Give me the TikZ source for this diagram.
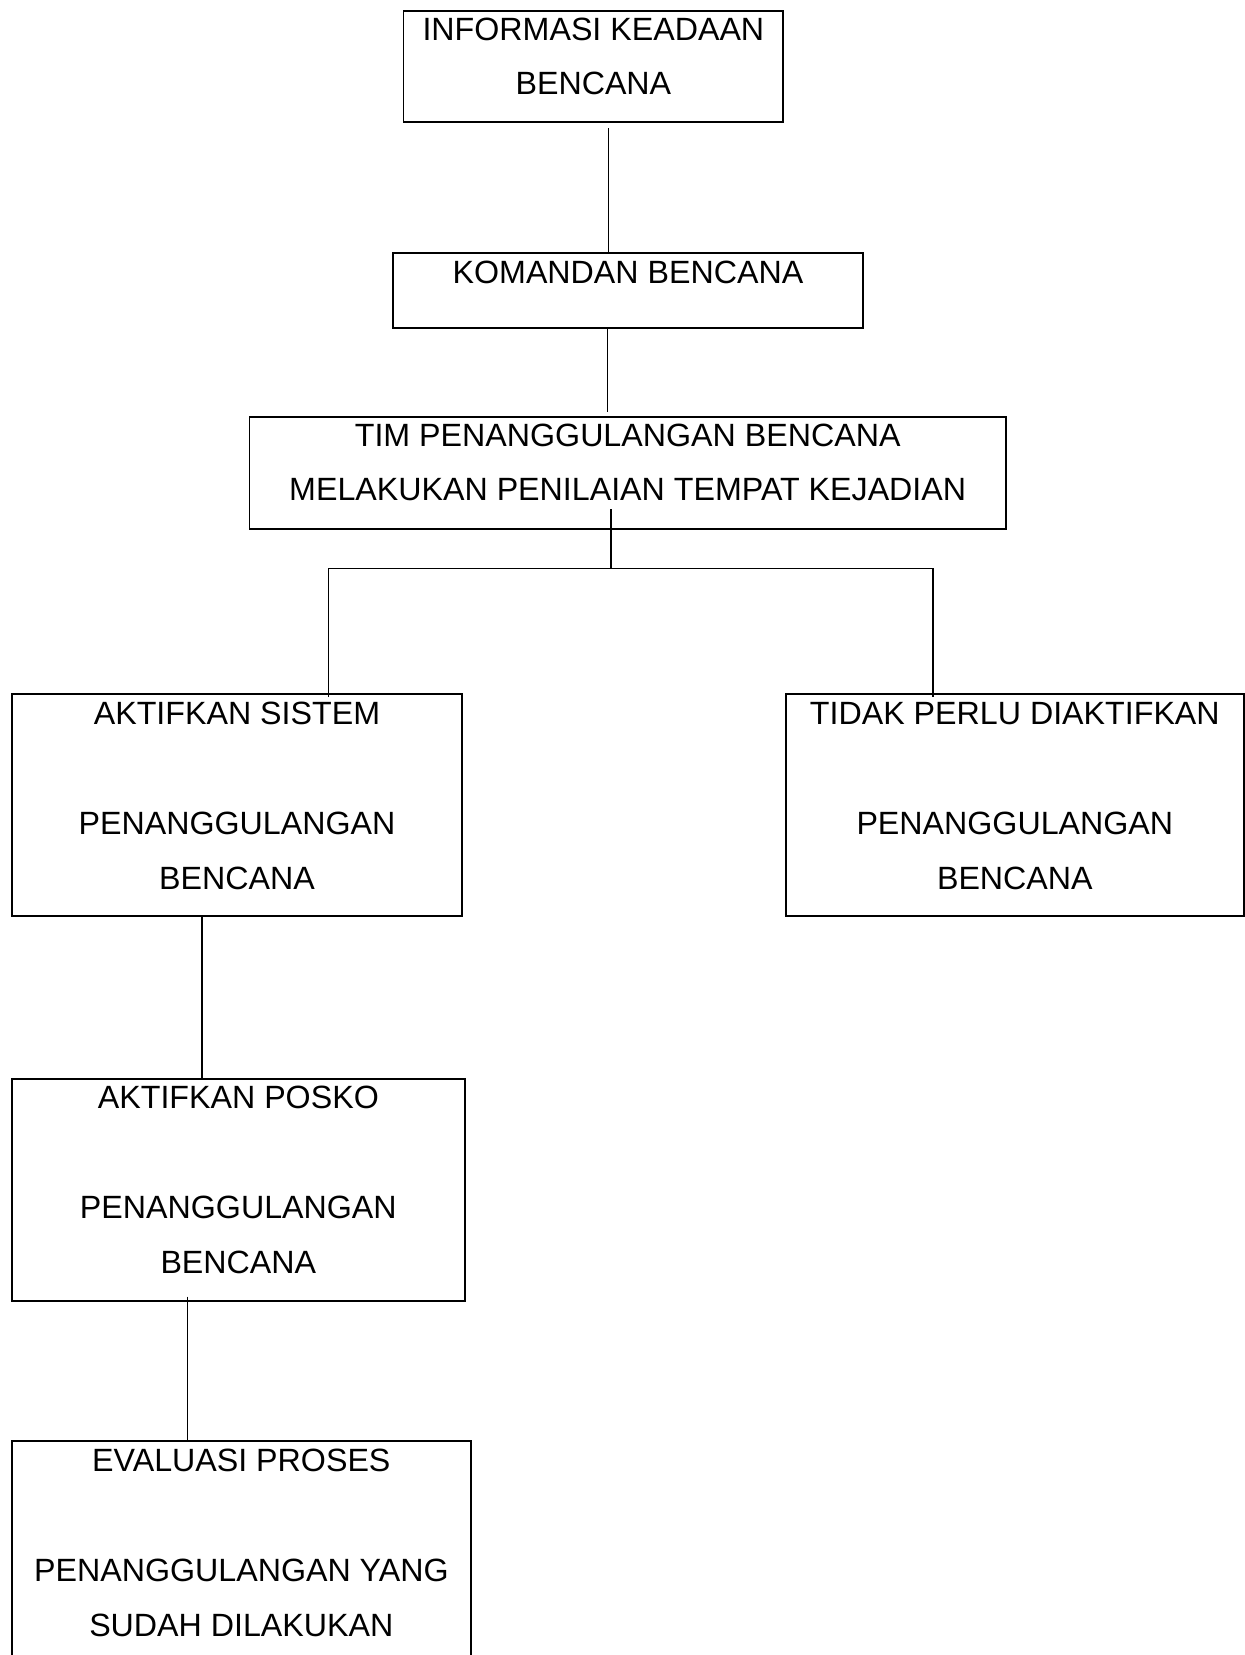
\documentclass[tikz,border=0pt]{standalone}
\usepackage{fontspec}
\setmainfont{Liberation Sans}
\newcommand{\bxtext}[4]{\vbox to #2{\hsize=#1\relax\parindent=0pt\parskip=0pt\centering\fontsize{16.1pt}{#3}\selectfont\kern\dimexpr15pt-0.7\baselineskip\relax\strut #4\par\vfil}}
\tikzset{
  bx/.style={draw, line width=0.85pt, inner sep=0pt, outer sep=0pt, anchor=north west},
  conn/.style={line width=0.75pt}
}
\begin{document}
\begin{tikzpicture}[x=0.5pt,y=-0.5pt]
\useasboundingbox (0,0) rectangle (1245,1655);
\node[bx] (b1) at (403.5,10.7) {\bxtext{189.9pt}{55.65pt}{27pt}{INFORMASI KEADAAN\\BENCANA}};
\node[bx] (b2) at (392.7,253) {\bxtext{235.3pt}{37.5pt}{27pt}{KOMANDAN BENCANA}};
\node[bx] (b3) at (249.4,416.7) {\bxtext{378.3pt}{56pt}{27pt}{TIM PENANGGULANGAN BENCANA\\MELAKUKAN PENILAIAN TEMPAT KEJADIAN}};
\node[bx] (b4) at (11.7,694) {\bxtext{225.3pt}{111pt}{27.5pt}{AKTIFKAN SISTEM\\[27.5pt]PENANGGULANGAN\\BENCANA}};
\node[bx] (b5) at (785.7,694) {\bxtext{229.15pt}{110.85pt}{27.5pt}{TIDAK PERLU DIAKTIFKAN\\[27.5pt]PENANGGULANGAN\\BENCANA}};
\node[bx] (b6) at (11.7,1078.7) {\bxtext{226.65pt}{111pt}{27.5pt}{AKTIFKAN POSKO\\[27.5pt]PENANGGULANGAN\\BENCANA}};
\node[bx] (b7) at (11.7,1441) {\bxtext{229.65pt}{115pt}{27.5pt}{EVALUASI PROSES\\[27.5pt]PENANGGULANGAN YANG\\SUDAH DILAKUKAN}};
% connectors
\draw[conn] ([shift={(14.9,6)}]b1.south) -- ([shift={(-19.7,0)}]b2.north);
\draw[conn] ([shift={(-20.3,0)}]b2.south) -- ([shift={(-20,-5)}]b3.north);
\draw[conn] ([shift={(-16.7,-19.7)}]b3.south) -- ([shift={(-16.7,39.6)}]b3.south);
\draw[conn] ([shift={(91.3,3)}]b4.north) |- ([shift={(-82.1,-125.7)}]b5.north) -- ([shift={(-82.1,2.7)}]b5.north);
\draw[conn] ([shift={(-35,0)}]b4.south) -- ([shift={(-36.35,0)}]b6.north);
\draw[conn] ([shift={(-50.65,-4)}]b6.south) -- ([shift={(-53.65,0)}]b7.north);
\end{tikzpicture}
\end{document}
